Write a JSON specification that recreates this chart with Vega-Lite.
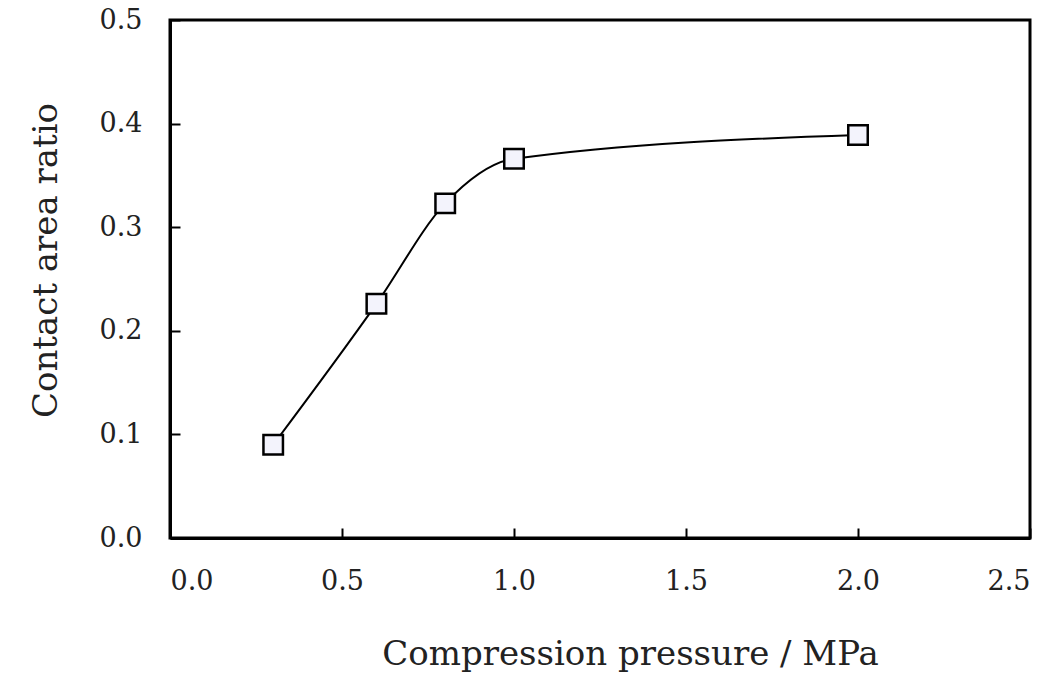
{
  "$schema": "https://vega.github.io/schema/vega-lite/v6.json",
  "autosize": "none",
  "width": 860,
  "height": 518,
  "padding": {"left": 170, "top": 20, "right": 25, "bottom": 137},
  "background": "white",
  "config": {
    "view": {"stroke": "black", "strokeWidth": 3},
    "axis": {
      "grid": false,
      "domainColor": "black",
      "domainWidth": 3,
      "tickColor": "black",
      "tickWidth": 2,
      "tickSize": -10,
      "labelFont": "DejaVu Serif",
      "labelFontSize": 27,
      "labelColor": "#222",
      "titleFont": "DejaVu Serif",
      "titleFontSize": 34,
      "titleFontWeight": "normal",
      "titleColor": "#222"
    }
  },
  "data": {
    "values": [
      {"p": 0.3, "r": 0.09},
      {"p": 0.6, "r": 0.226},
      {"p": 0.8, "r": 0.323},
      {"p": 1.0, "r": 0.366},
      {"p": 2.0, "r": 0.389}
    ]
  },
  "encoding": {
    "x": {
      "field": "p", "type": "quantitative",
      "scale": {"domain": [0, 2.5], "nice": false},
      "axis": {"values": [0, 0.5, 1.0, 1.5, 2.0, 2.5], "format": ".1f", "labelPadding": 40, "title": "Compression pressure / MPa", "titlePadding": 43, "titleX": 460}
    },
    "y": {
      "field": "r", "type": "quantitative",
      "scale": {"domain": [0, 0.5], "nice": false},
      "axis": {"values": [0, 0.1, 0.2, 0.3, 0.4, 0.5], "format": ".1f", "labelPadding": 38, "title": "Contact area ratio", "titlePadding": 36, "titleY": 240}
    }
  },
  "layer": [
    {"mark": {"type": "line", "interpolate": "monotone", "color": "black", "strokeWidth": 2}},
    {"mark": {"type": "point", "shape": "square", "size": 380, "filled": true, "fill": "#f3f3fc", "stroke": "black", "strokeWidth": 2.5, "opacity": 1}}
  ]
}
